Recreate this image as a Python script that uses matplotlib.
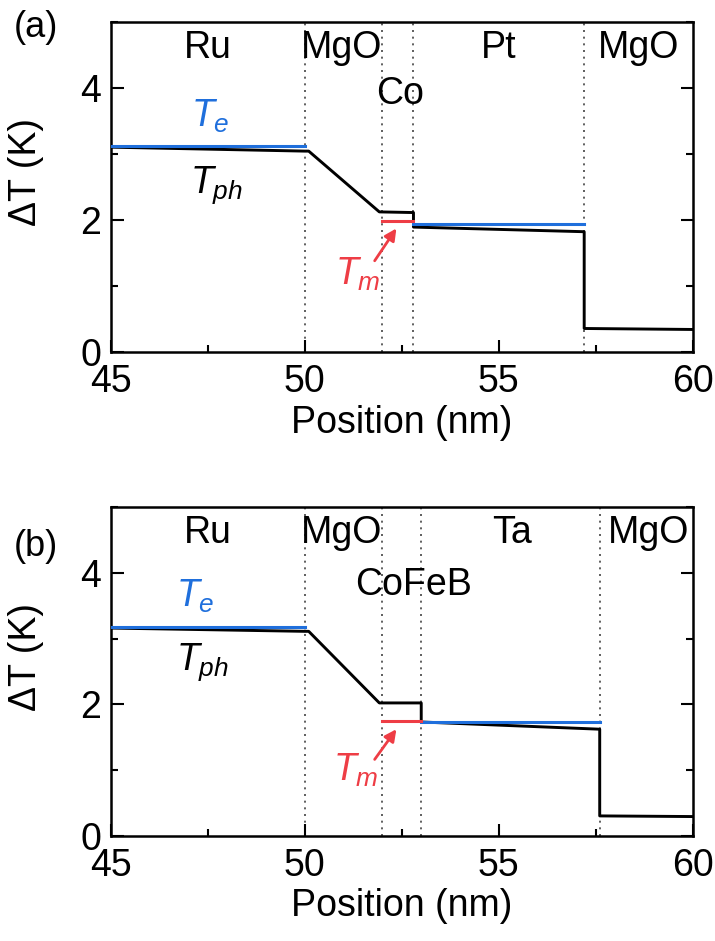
import matplotlib
matplotlib.use("Agg")
import matplotlib.pyplot as plt
from matplotlib.ticker import MultipleLocator

plt.rcParams['font.family'] = ['Liberation Sans', 'DejaVu Sans']
plt.rcParams['mathtext.fontset'] = 'custom'
plt.rcParams['mathtext.rm'] = 'Liberation Sans'
plt.rcParams['mathtext.it'] = 'Liberation Sans:italic'

# ---- Panel (a): Ru / MgO / Co / Pt / MgO ----
a_te_ru_x = [45, 50]
a_te_ru_y = [3.11, 3.11]
a_tph_x = [45, 50, 50.1, 51.92, 52.8, 52.8, 57.2, 57.2, 60]
a_tph_y = [3.10, 3.04, 3.04, 2.12, 2.11, 1.89, 1.82, 0.355, 0.34]
a_te_nm_x = [52.8, 57.2]
a_te_nm_y = [1.94, 1.94]
a_tm_x = [52.0, 52.8]
a_tm_y = [1.98, 1.98]
a_bounds = [50.0, 52.0, 52.8, 57.2]
a_layers = ["Ru", "MgO", "Co", "Pt", "MgO"]
a_layer_x = [47.5, 50.95, 52.45, 55.0, 58.6]
a_layer_y = [4.6, 4.6, 3.9, 4.6, 4.6]

# ---- Panel (b): Ru / MgO / CoFeB / Ta / MgO ----
b_te_ru_x = [45, 50]
b_te_ru_y = [3.17, 3.17]
b_tph_x = [45, 50, 50.1, 51.92, 53.0, 53.0, 57.6, 57.6, 60]
b_tph_y = [3.16, 3.11, 3.11, 2.02, 2.02, 1.73, 1.62, 0.30, 0.29]
b_te_nm_x = [53.0, 57.6]
b_te_nm_y = [1.73, 1.73]
b_tm_x = [52.0, 53.0]
b_tm_y = [1.74, 1.74]
b_bounds = [50.0, 52.0, 53.0, 57.6]
b_layers = ["Ru", "MgO", "CoFeB", "Ta", "MgO"]
b_layer_x = [47.5, 50.95, 52.8, 55.35, 58.85]
b_layer_y = [4.6, 4.6, 3.81, 4.6, 4.6]

BLUE = '#1f6fdc'
RED = '#ee3d45'
FS = 27

fig = plt.figure(figsize=(7.15, 9.41), dpi=100)
axa = fig.add_axes([0.155, 0.626, 0.814, 0.351])
axb = fig.add_axes([0.155, 0.112, 0.814, 0.349])

panels = [
    (axa, "(a)", 0.982, a_te_ru_x, a_te_ru_y, a_tph_x, a_tph_y, a_te_nm_x, a_te_nm_y,
     a_tm_x, a_tm_y, a_bounds, a_layers, a_layer_x, a_layer_y,
     (47.55, 3.56), (47.72, 2.53), (51.37, 1.18), (51.8, 1.38), (52.36, 1.87)),
    (axb, "(b)", 0.88, b_te_ru_x, b_te_ru_y, b_tph_x, b_tph_y, b_te_nm_x, b_te_nm_y,
     b_tm_x, b_tm_y, b_bounds, b_layers, b_layer_x, b_layer_y,
     (47.17, 3.64), (47.35, 2.64), (51.32, 0.99), (51.8, 1.16), (52.36, 1.62)),
]

for (ax, lab, laby, terx, tery, tphx, tphy, tenx, teny, tmx, tmy, bounds, layers,
     lx, ly, tepos, tphpos, tmpos, arr_from, arr_to) in panels:
    for b in bounds:
        ax.axvline(b, color='#444444', lw=1.2, ls=(0, (1.2, 2.8)), zorder=1)
    ax.plot(tphx, tphy, color='black', lw=2.1, zorder=3)
    ax.plot(terx, tery, color=BLUE, lw=2.2, zorder=4)
    ax.plot(tenx, teny, color=BLUE, lw=2.2, zorder=4)
    ax.plot(tmx, tmy, color=RED, lw=2.2, zorder=5)
    for name, x, y in zip(layers, lx, ly):
        ax.text(x, y, name, ha='center', va='center', fontsize=FS)
    ax.text(tepos[0], tepos[1], r'$T_e$', color=BLUE,
            ha='center', va='center', fontsize=FS)
    ax.text(tphpos[0], tphpos[1], r'$T_{ph}$', color='black',
            ha='center', va='center', fontsize=FS)
    ax.text(tmpos[0], tmpos[1], r'$T_m$', color=RED, ha='center', va='center',
            fontsize=FS)
    ax.annotate('', xy=arr_to, xytext=arr_from,
                arrowprops=dict(arrowstyle='-|>,head_length=0.7,head_width=0.35',
                                color=RED, lw=2.0, shrinkA=0, shrinkB=0))
    ax.set_xlim(45, 60)
    ax.set_ylim(0, 5)
    ax.xaxis.set_major_locator(MultipleLocator(5))
    ax.xaxis.set_minor_locator(MultipleLocator(2.5))
    ax.yaxis.set_major_locator(MultipleLocator(2))
    ax.yaxis.set_minor_locator(MultipleLocator(1))
    ax.tick_params(which='both', direction='in', right=True, top=False,
                   labelsize=FS, width=1.5)
    ax.tick_params(which='major', length=9, pad=7)
    ax.tick_params(axis='x', which='major', pad=9)
    ax.tick_params(which='minor', length=5)
    for s in ax.spines.values():
        s.set_linewidth(1.8)
    ax.set_xlabel('Position (nm)', fontsize=FS, labelpad=3)
    ax.set_ylabel('ΔT (K)', fontsize=FS)
    ax.yaxis.set_label_coords(-0.115, 0.545)
    ax.text(-0.167, laby, lab, transform=ax.transAxes, fontsize=26,
            ha='left', va='center')

fig.savefig('out.png', dpi=100)
